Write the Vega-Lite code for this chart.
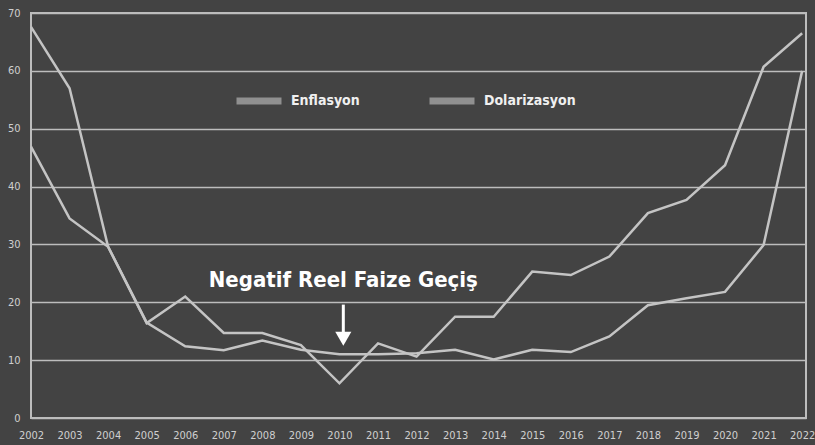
{
  "$schema": "https://vega.github.io/schema/vega-lite/v6.json",
  "width": 775,
  "height": 405,
  "autosize": {"type": "none"},
  "padding": {"left": 31, "top": 13, "right": 9, "bottom": 27},
  "background": "#434343",
  "config": {
    "view": {"stroke": "#bdbdbd", "strokeWidth": 2},
    "font": "'DejaVu Sans Condensed', 'Liberation Sans Narrow', 'Roboto Condensed', Roboto, sans-serif",
    "axis": {"labelOverlap": false}
  },
  "layer": [
    {
      "data": {
        "values": [
          {"year": 2002, "seri": "Dolarizasyon", "deger": 67.6},
          {"year": 2003, "seri": "Dolarizasyon", "deger": 57.0},
          {"year": 2004, "seri": "Dolarizasyon", "deger": 29.6},
          {"year": 2005, "seri": "Dolarizasyon", "deger": 16.4},
          {"year": 2006, "seri": "Dolarizasyon", "deger": 21.0},
          {"year": 2007, "seri": "Dolarizasyon", "deger": 14.7},
          {"year": 2008, "seri": "Dolarizasyon", "deger": 14.7},
          {"year": 2009, "seri": "Dolarizasyon", "deger": 12.6},
          {"year": 2010, "seri": "Dolarizasyon", "deger": 6.0},
          {"year": 2011, "seri": "Dolarizasyon", "deger": 12.9},
          {"year": 2012, "seri": "Dolarizasyon", "deger": 10.6},
          {"year": 2013, "seri": "Dolarizasyon", "deger": 17.5},
          {"year": 2014, "seri": "Dolarizasyon", "deger": 17.5},
          {"year": 2015, "seri": "Dolarizasyon", "deger": 25.3},
          {"year": 2016, "seri": "Dolarizasyon", "deger": 24.7},
          {"year": 2017, "seri": "Dolarizasyon", "deger": 27.9},
          {"year": 2018, "seri": "Dolarizasyon", "deger": 35.4},
          {"year": 2019, "seri": "Dolarizasyon", "deger": 37.7},
          {"year": 2020, "seri": "Dolarizasyon", "deger": 43.7},
          {"year": 2021, "seri": "Dolarizasyon", "deger": 60.7},
          {"year": 2022, "seri": "Dolarizasyon", "deger": 66.5},
          {"year": 2002, "seri": "Enflasyon", "deger": 46.9},
          {"year": 2003, "seri": "Enflasyon", "deger": 34.5},
          {"year": 2004, "seri": "Enflasyon", "deger": 29.6},
          {"year": 2005, "seri": "Enflasyon", "deger": 16.5},
          {"year": 2006, "seri": "Enflasyon", "deger": 12.4},
          {"year": 2007, "seri": "Enflasyon", "deger": 11.7},
          {"year": 2008, "seri": "Enflasyon", "deger": 13.4},
          {"year": 2009, "seri": "Enflasyon", "deger": 11.8},
          {"year": 2010, "seri": "Enflasyon", "deger": 11.0},
          {"year": 2011, "seri": "Enflasyon", "deger": 11.0},
          {"year": 2012, "seri": "Enflasyon", "deger": 11.2},
          {"year": 2013, "seri": "Enflasyon", "deger": 11.8},
          {"year": 2014, "seri": "Enflasyon", "deger": 10.1},
          {"year": 2015, "seri": "Enflasyon", "deger": 11.8},
          {"year": 2016, "seri": "Enflasyon", "deger": 11.4},
          {"year": 2017, "seri": "Enflasyon", "deger": 14.1},
          {"year": 2018, "seri": "Enflasyon", "deger": 19.5},
          {"year": 2019, "seri": "Enflasyon", "deger": 20.7},
          {"year": 2020, "seri": "Enflasyon", "deger": 21.8},
          {"year": 2021, "seri": "Enflasyon", "deger": 29.9},
          {"year": 2022, "seri": "Enflasyon", "deger": 60.0}
        ]
      },
      "mark": {"type": "line", "strokeWidth": 2.5},
      "encoding": {
        "x": {
          "field": "year",
          "type": "quantitative",
          "scale": {"domain": [2002, 2022.1], "nice": false, "zero": false},
          "axis": {
            "values": [2002, 2003, 2004, 2005, 2006, 2007, 2008, 2009, 2010, 2011, 2012, 2013, 2014, 2015, 2016, 2017, 2018, 2019, 2020, 2021, 2022],
            "tickCount": 30,
            "format": "d",
            "grid": false,
            "domain": false,
            "ticks": false,
            "labelPadding": 11,
            "labelFontSize": 11,
            "labelColor": "#cfcfcf",
            "labelOverlap": false,
            "labelSeparation": 0,
            "labelBound": false,
            "labelFlush": false,
            "title": null
          }
        },
        "y": {
          "field": "deger",
          "type": "quantitative",
          "scale": {"domain": [0, 70], "nice": false},
          "axis": {
            "values": [0, 10, 20, 30, 40, 50, 60, 70],
            "tickCount": 10,
            "grid": true,
            "gridColor": "#bdbdbd",
            "gridWidth": 1.6,
            "gridOpacity": 1,
            "domain": false,
            "ticks": false,
            "labelPadding": 11,
            "labelFontSize": 11,
            "labelColor": "#cfcfcf",
            "title": null
          }
        },
        "color": {
          "field": "seri",
          "type": "nominal",
          "scale": {"domain": ["Enflasyon", "Dolarizasyon"], "range": ["#c4c4c4", "#c4c4c4"]},
          "legend": {
            "orient": "none",
            "legendX": 202,
            "legendY": 62,
            "direction": "horizontal",
            "title": null,
            "symbolType": "stroke",
            "symbolSize": 2025,
            "symbolStrokeWidth": 7,
            "symbolOpacity": 0.6,
            "labelColor": "#f0f0f0",
            "labelFontSize": 14,
            "labelFontWeight": "bold",
            "labelOffset": 6,
            "columnPadding": 55,
            "padding": 0
          }
        }
      }
    },
    {
      "data": {"values": [{"year": 2010.1, "y": 22.6, "label": "Negatif Reel Faize Geçiş"}]},
      "mark": {"type": "text", "fontWeight": "bold", "fontSize": 22, "color": "#ffffff", "align": "center", "baseline": "alphabetic"},
      "encoding": {
        "x": {"field": "year", "type": "quantitative"},
        "y": {"field": "y", "type": "quantitative"},
        "text": {"field": "label"}
      }
    },
    {
      "data": {"values": [{"year": 2010.1, "y1": 19.6, "y2": 14.3}]},
      "mark": {"type": "rule", "color": "#ffffff", "strokeWidth": 3},
      "encoding": {
        "x": {"field": "year", "type": "quantitative"},
        "y": {"field": "y1", "type": "quantitative"},
        "y2": {"field": "y2"}
      }
    },
    {
      "data": {"values": [{"year": 2010.1, "y": 13.7}]},
      "mark": {"type": "point", "shape": "triangle-down", "filled": true, "color": "#ffffff", "opacity": 1, "size": 260},
      "encoding": {
        "x": {"field": "year", "type": "quantitative"},
        "y": {"field": "y", "type": "quantitative"}
      }
    }
  ]
}
